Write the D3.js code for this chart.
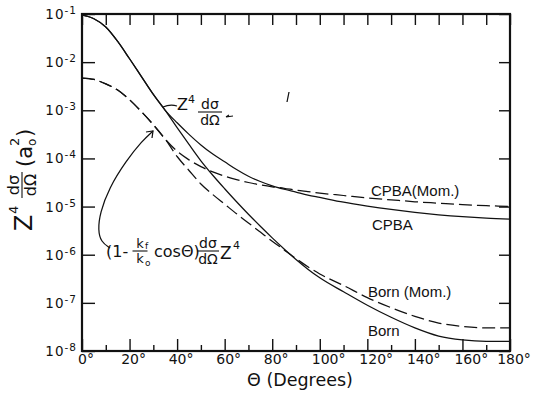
<!DOCTYPE html>
<html>
<head>
<meta charset="utf-8">
<script src="https://cdn.jsdelivr.net/npm/d3@7"></script>
<style>
  body { margin: 0; background: #fff; }
  svg { font-family: "DejaVu Sans", "Liberation Sans", sans-serif; }
  text { fill: #111; }
  .curve { fill: none; stroke: #111; stroke-width: 1.25; }
  .dash { stroke-dasharray: 13 5; }
  .axis path, .axis line { stroke: #111; }
  .lbl { font-family: "Liberation Sans", sans-serif; }
</style>
</head>
<body>
<div class="chart"></div>
<script>
// === Data (log10 of Z^4 dσ/dΩ in a0^2) ===
const thetaDeg = [0, 5, 10, 15, 20, 25, 30, 35, 40, 45, 50, 55, 60, 65, 70, 75, 80, 85, 90, 95, 100,
                  110, 120, 130, 140, 150, 160, 170, 180];
const cpbaExp = [-1.02, -1.1, -1.27, -1.57, -1.93, -2.3, -2.67, -3.0,
                 -3.26, -3.5, -3.72, -3.91, -4.07, -4.23, -4.37, -4.48, -4.57, -4.64, -4.7, -4.76, -4.81,
                 -4.91, -4.99, -5.06, -5.12, -5.17, -5.21, -5.24, -5.26];
const bornExp = [-1.02, -1.1, -1.27, -1.57, -1.93, -2.3, -2.67, -3.0,
                 -3.36, -3.71, -4.05, -4.35, -4.63, -4.9, -5.16, -5.41, -5.65, -5.88, -6.1, -6.3, -6.48,
                 -6.77, -7.05, -7.3, -7.52, -7.69, -7.77, -7.8, -7.8];
const cpbaMomExp = [-2.33, -2.36, -2.45, -2.58, -2.78, -3.03, -3.3, -3.6,
                    -3.85, -4.03, -4.17, -4.28, -4.37, -4.44, -4.5, -4.55, -4.59, -4.62, -4.66, -4.69, -4.72,
                    -4.77, -4.82, -4.86, -4.9, -4.93, -4.96, -4.98, -5.0];
const bornMomExp = [-2.33, -2.36, -2.45, -2.58, -2.78, -3.03, -3.3, -3.6,
                    -3.96, -4.25, -4.53, -4.75, -4.95, -5.15, -5.34, -5.53, -5.72, -5.9, -6.08, -6.25, -6.4,
                    -6.64, -6.89, -7.1, -7.28, -7.42, -7.49, -7.52, -7.52];

const yDecades = [-1, -2, -3, -4, -5, -6, -7, -8];
const xMajor = [0, 20, 40, 60, 80, 100, 120, 140, 160, 180];
const xMinor = [10, 30, 50, 70, 90, 110, 130, 150, 170];

const series = [
  {name: "CPBA", exps: cpbaExp, dashed: false, label: "CPBA", lx: 372, ly: 230},
  {name: "Born", exps: bornExp, dashed: false, label: "Born", lx: 368, ly: 336},
  {name: "CPBA(Mom.)", exps: cpbaMomExp, dashed: true, label: "CPBA(Mom.)", lx: 371, ly: 196},
  {name: "Born (Mom.)", exps: bornMomExp, dashed: true, label: "Born (Mom.)", lx: 368, ly: 297}
];

// === SVG ===
const W = 534, H = 402;
const plot = {left: 82, right: 510, top: 14, bottom: 351};

const svg = d3.select(".chart").append("svg")
    .attr("width", W)
    .attr("height", H);

// === Scales ===
const x = d3.scaleLinear().domain([0, 180]).range([plot.left, plot.right]);
const y = d3.scaleLog().domain([1e-8, 1e-1]).range([plot.bottom, plot.top]);

// === Axes (inward ticks on all four sides) ===
svg.append("g").attr("class", "axis")
    .attr("transform", `translate(0,${plot.bottom})`)
    .call(d3.axisBottom(x).tickValues(xMajor).tickSize(-12).tickFormat(""))
    .call(g => g.select(".domain").remove());
svg.append("g").attr("class", "axis")
    .attr("transform", `translate(0,${plot.bottom})`)
    .call(d3.axisBottom(x).tickValues(xMinor).tickSize(-6).tickFormat(""))
    .call(g => g.select(".domain").remove());
svg.append("g").attr("class", "axis")
    .attr("transform", `translate(0,${plot.top})`)
    .call(d3.axisTop(x).tickValues(xMajor.concat(xMinor)).tickSize(-11).tickFormat(""))
    .call(g => g.select(".domain").remove());
svg.append("g").attr("class", "axis")
    .attr("transform", `translate(${plot.left},0)`)
    .call(d3.axisLeft(y).tickValues(yDecades.map(e => Math.pow(10, e))).tickSize(-13).tickFormat(""))
    .call(g => g.select(".domain").remove());
svg.append("g").attr("class", "axis")
    .attr("transform", `translate(${plot.right},0)`)
    .call(d3.axisRight(y).tickValues(yDecades.map(e => Math.pow(10, e))).tickSize(-11).tickFormat(""))
    .call(g => g.select(".domain").remove());
svg.selectAll(".axis line").attr("stroke-width", 1.4);

// frame
svg.append("rect")
    .attr("x", plot.left).attr("y", plot.top)
    .attr("width", plot.right - plot.left).attr("height", plot.bottom - plot.top)
    .attr("fill", "none").attr("stroke", "#111").attr("stroke-width", 2.2);

// === Tick labels ===
const yLab = svg.append("g").selectAll("text")
    .data(yDecades).join("text")
    .attr("x", plot.left - 5)
    .attr("y", d => y(Math.pow(10, d)) + 5)
    .attr("text-anchor", "end")
    .style("font-size", "13.5px")
    .style("letter-spacing", "1px");
yLab.append("tspan").text("10");
yLab.append("tspan").attr("dy", -5).style("font-size", "10.5px").text(d => String(d));

svg.append("g").selectAll("text")
    .data(xMajor).join("text")
    .attr("x", d => (d >= 100 && d < 180) ? x(d) - 8 : x(d) + 4)
    .attr("y", 364)
    .attr("text-anchor", d => (d >= 100 && d < 180) ? "start" : "middle")
    .style("font-size", "14px")
    .text(d => d + "°");

// === Axis titles ===
svg.append("text")
    .attr("x", 300).attr("y", 386)
    .attr("text-anchor", "middle")
    .style("font-size", "17.5px")
    .text("Θ (Degrees)");

function fraction(sel, cx, cy, num, den, fs, w) {
  sel.append("text").attr("x", cx).attr("y", cy - 3)
      .attr("text-anchor", "middle").style("font-size", fs + "px").text(num);
  sel.append("line").attr("x1", cx - w / 2).attr("x2", cx + w / 2)
      .attr("y1", cy).attr("y2", cy).attr("stroke", "#111").attr("stroke-width", 1.1);
  sel.append("text").attr("x", cx).attr("y", cy + fs * 0.9)
      .attr("text-anchor", "middle").style("font-size", fs + "px").text(den);
}

// rotated y title: Z^4 dσ/dΩ (a0^2)
const yt = svg.append("g").attr("transform", "rotate(-90)");
yt.append("text").attr("x", -231).attr("y", 32).style("font-size", "24px").text("Z");
yt.append("text").attr("x", -214).attr("y", 18).style("font-size", "13px").text("4");
fraction(yt, -185, 22, "dσ", "dΩ", 16, 26);
yt.append("text").attr("x", -167).attr("y", 32).style("font-size", "21px").text("(a");
yt.append("text").attr("x", -146).attr("y", 36).style("font-size", "12px").text("o");
yt.append("text").attr("x", -146).attr("y", 19).style("font-size", "13px").text("2");
yt.append("text").attr("x", -137).attr("y", 32).style("font-size", "21px").text(")");

// === Curves ===
const line = d3.line()
    .x(d => x(d[0]))
    .y(d => y(Math.pow(10, d[1])))
    .curve(d3.curveMonotoneX);

svg.append("g").selectAll("path")
    .data(series).join("path")
    .attr("class", d => d.dashed ? "curve dash" : "curve")
    .attr("d", d => line(thetaDeg.map((t, i) => [t, d.exps[i]])));

// curve labels
svg.append("g").selectAll("text")
    .data(series).join("text")
    .attr("class", "lbl")
    .attr("x", d => d.lx).attr("y", d => d.ly)
    .style("font-size", "15px")
    .text(d => d.label);

// === Annotations ===
const ann = svg.append("g");
ann.append("path").attr("class", "curve").attr("d", "M163,107 Q170,104 177,106");
ann.append("text").attr("x", 177).attr("y", 110).style("font-size", "16px").text("Z");
ann.append("text").attr("x", 188).attr("y", 103).style("font-size", "11px").text("4");
fraction(ann, 210, 112, "dσ", "dΩ", 14, 24);
ann.append("path").attr("class", "curve").attr("stroke-width", 1).attr("d", "M226,117 L233,116 M226,117 L229,115");
ann.append("path").attr("class", "curve").attr("stroke-width", 1).attr("d", "M289,92 L287,102");

const lead = d3.line().curve(d3.curveBasis);
ann.append("path").attr("class", "curve")
    .attr("d", lead([[110, 248], [101, 242], [98, 230], [100, 213], [109, 188], [126, 161], [142, 141], [153, 131]]));
ann.append("path").attr("class", "curve").attr("d", "M146,132 L153,131 L152,138");

ann.append("text").attr("x", 106).attr("y", 257).style("font-size", "16px").text("(1-");
fraction(ann, 140, 251, "k", "k", 13, 15);
ann.append("text").attr("x", 145).attr("y", 249).style("font-size", "9px").text("f");
ann.append("text").attr("x", 145).attr("y", 266).style("font-size", "9px").text("o");
ann.append("text").attr("x", 154).attr("y", 257).style("font-size", "16px").text("cosΘ)");
fraction(ann, 208, 251, "dσ", "dΩ", 14, 22);
ann.append("text").attr("x", 220).attr("y", 259).style("font-size", "17px").text("Z");
ann.append("text").attr("x", 233).attr("y", 249).style("font-size", "11px").text("4");
</script>
</body>
</html>
